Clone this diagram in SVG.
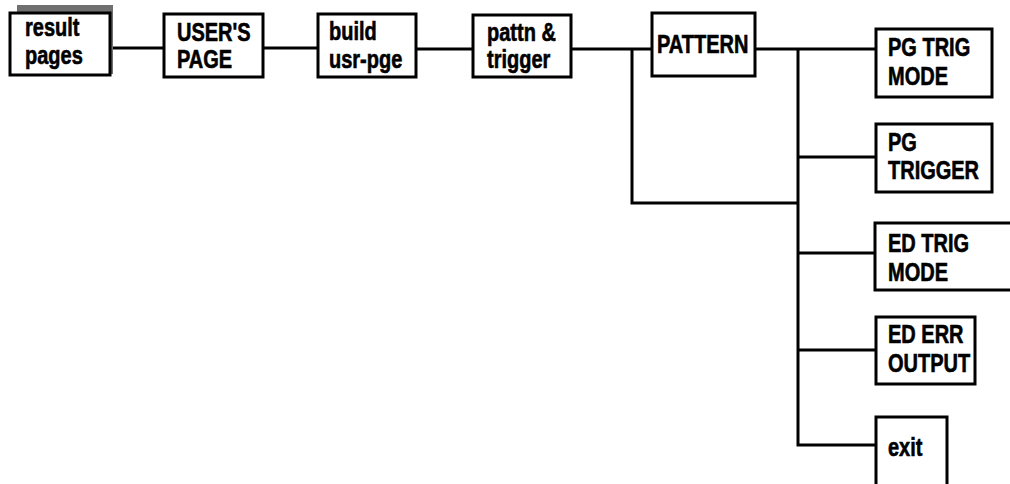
<svg xmlns="http://www.w3.org/2000/svg" width="1010" height="484" viewBox="0 0 1010 484">
<style>
.box{fill:#fff;stroke:#000;stroke-width:3}
.t{font-family:"Liberation Sans",Arial,sans-serif;font-weight:bold;font-size:25px;fill:#000;stroke:#000;stroke-width:0.6}
.c{fill:none;stroke:#000;stroke-width:3}
</style>
<rect width="1010" height="484" fill="#fff"/>
<g id="connectors">
<path class="c" d="M110 48H164M263 48H318M416 49H473M571 49H652M632 49V203H798M755 49H876M798 49V445H876M798 157H876M798 253H876M798 350H876"/>
</g>
<g id="result-pages">
<rect x="17" y="5" width="96" height="69" fill="#707070"/>
<rect class="box" x="10" y="13" width="100" height="62"/>
<text class="t" transform="matrix(0.8 0 0 1 25 36)">result</text>
<text class="t" transform="matrix(0.8 0 0 1 25 64)">pages</text>
</g>
<g id="users-page">
<rect class="box" x="164" y="14" width="99" height="63"/>
<text class="t" transform="matrix(0.8 0 0 1 177 41)">USER'S</text>
<text class="t" transform="matrix(0.8 0 0 1 177 68)">PAGE</text>
</g>
<g id="build-usr-pge">
<rect class="box" x="318" y="14" width="98" height="63"/>
<text class="t" transform="matrix(0.8 0 0 1 329 40)">build</text>
<text class="t" transform="matrix(0.8 0 0 1 329 68)">usr-pge</text>
</g>
<g id="pattn-trigger">
<rect class="box" x="473" y="15" width="98" height="62"/>
<text class="t" transform="matrix(0.8 0 0 1 487 41)">pattn &amp;</text>
<text class="t" transform="matrix(0.8 0 0 1 487 68)">trigger</text>
</g>
<g id="pattern">
<rect class="box" x="652" y="13" width="103" height="63"/>
<text class="t" transform="matrix(0.8 0 0 1 657 53)">PATTERN</text>
</g>
<g id="pg-trig-mode">
<rect class="box" x="876" y="29" width="116" height="68"/>
<text class="t" transform="matrix(0.8 0 0 1 888 56)">PG TRIG</text>
<text class="t" transform="matrix(0.8 0 0 1 888 85)">MODE</text>
</g>
<g id="pg-trigger">
<rect class="box" x="876" y="124" width="116" height="68"/>
<text class="t" transform="matrix(0.8 0 0 1 888 151)">PG</text>
<text class="t" transform="matrix(0.8 0 0 1 888 179)">TRIGGER</text>
</g>
<g id="ed-trig-mode">
<rect class="box" x="875" y="223" width="150" height="67"/>
<text class="t" transform="matrix(0.8 0 0 1 888 252)">ED TRIG</text>
<text class="t" transform="matrix(0.8 0 0 1 888 281)">MODE</text>
</g>
<g id="ed-err-output">
<rect class="box" x="876" y="317" width="99" height="67"/>
<text class="t" transform="matrix(0.8 0 0 1 888 343)">ED ERR</text>
<text class="t" transform="matrix(0.8 0 0 1 888 372)">OUTPUT</text>
</g>
<g id="exit">
<rect class="box" x="876" y="417" width="71" height="80"/>
<text class="t" transform="matrix(0.8 0 0 1 888 456)">exit</text>
</g>
</svg>
